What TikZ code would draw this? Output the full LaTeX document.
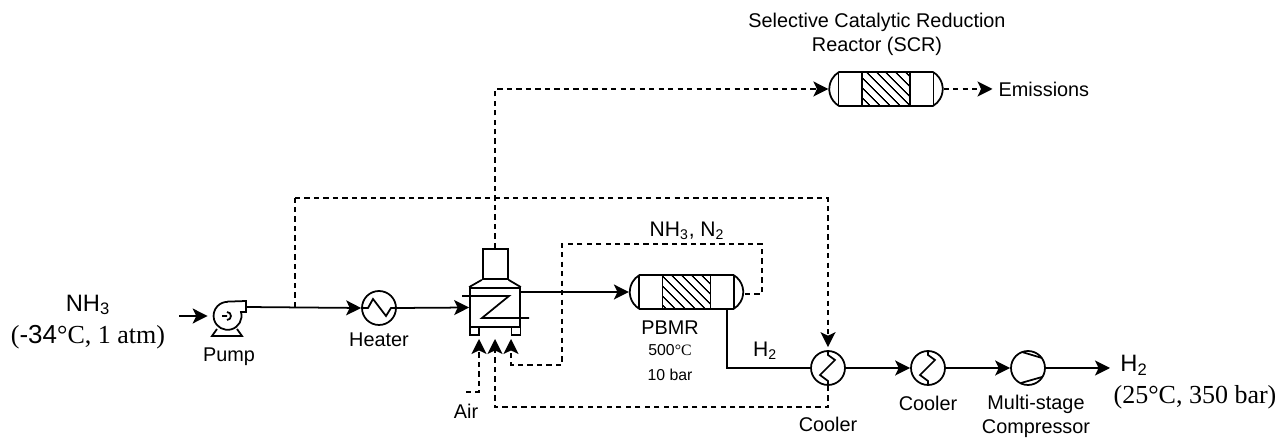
\documentclass[tikz,border=0pt]{standalone}
\usepackage{fontspec}
\setmainfont{Liberation Sans}
\newfontfamily\timesfont{Liberation Serif}
\usetikzlibrary{arrows.meta,calc,patterns.meta,shapes.misc}
\tikzset{
  line/.style={line width=1pt},
  flow/.style={line,-{Stealth[length=8.5pt,width=8.5pt,inset=2pt]}},
  gasline/.style={line,dash pattern=on 3pt off 2.4pt},
  gas/.style={flow,dash pattern=on 3pt off 2.4pt},
  unit/.style={circle,draw,line,minimum size=0.68cm,inner sep=0},
  box/.style={rectangle,draw,line,inner sep=0},
  reactor/.style={rounded rectangle,rounded rectangle arc length=120,draw,line,
    minimum width=2.27cm,minimum height=0.68cm,inner sep=0},
  tag/.style={font=\fontsize{11.3}{13}\selectfont,align=center},
  bigtag/.style={font=\fontsize{12}{14}\selectfont},
  hugetag/.style={font=\fontsize{13.5}{16}\selectfont},
  small/.style={font=\fontsize{9}{11}\selectfont},
  cond/.style={font=\fontsize{14.8}{17}\selectfont}
}
\begin{document}
\begin{tikzpicture}[x=0.02cm,y=-0.02cm]
    \useasboundingbox (0,0) rectangle (1282,438);
    % units
    \node[circle,minimum size=0.56cm,inner sep=0] (pump) at (227,316) {};
    \foreach \Pos/\Name in {(379,308)/heater, (828,368)/coolerA, (928,368)/coolerB, (1028,368)/compressor}
    \node[unit] (\Name) at \Pos {};
    \foreach \Pos/\Name in {(686.5,292)/pbmr, (886,89)/scr}
    \node[reactor] (\Name) at \Pos {};
    % furnace
    \node[box,minimum width=1cm,minimum height=0.78cm] (furnace) at (495,307.5) {};
    \node[box,minimum width=0.5cm,minimum height=0.6cm] (chimney) at (495.2,264) {};
    \node[box,minimum width=0.18cm,minimum height=0.16cm] (footA) at (474.5,331) {};
    \node[box,minimum width=0.18cm,minimum height=0.16cm] (footB) at (516,331) {};
    \draw[line] (chimney.south west) -- (furnace.north west);
    \draw[line] (chimney.south east) -- (furnace.north east);
    \draw[line] (462,296) -- (509,296) -- (482,318) -- (529,318);
    % pump body
    \draw[line] (pump.north) -- (246,301) -- (246,312) -- (241,312)
      arc[start angle=16,end angle=-270,radius=0.28cm];
    \draw[line] (222,316) -- (227,316) (227,312) arc[start angle=90,end angle=-90,radius=0.08cm];
    \draw[line] (217,329) -- (212,336) -- (242,336) -- (237,329);
    % heater, coolers, compressor
    \draw[line,shift={(heater)}] (-17,0) -- (-11,0) -- (-6,-9) -- (7,8) -- (12,0) -- (17,0);
    \foreach \Cooler in {coolerA,coolerB}
    \draw[line,shift={(\Cooler)}] (0,-17) -- (0,-13) -- (7,-8) -- (-8,7) -- (0,13) -- (0,17);
    \draw[line,shift={(compressor)}] (-6,-16) -- (14,-10) (-7,15) -- (14,9);
    % reactors
    \foreach \Reactor in {pbmr,scr}
    {
    \draw[line,pattern={Lines[angle=-45,distance=4pt,line width=0.8pt]}]
      ($(\Reactor)+(-24,-17)$) rectangle ($(\Reactor)+(24,17)$);
    \draw[line] ($(\Reactor)+(-47.5,-17)$) -- ($(\Reactor)+(-47.5,17)$);
    \draw[line] ($(\Reactor)+(47.5,-17)$) -- ($(\Reactor)+(47.5,17)$);
    }
    % free ends
    \coordinate (feed) at (179,316);
    \coordinate (pumpout) at (246,307);
    \coordinate (branch) at (295,307);
    \coordinate (loop) at (295,198);
    \coordinate (furnaceout) at (520,292);
    \coordinate (airstart) at (466,392);
    \coordinate (airin) at (479,339);
    \coordinate (coolin) at (495,339);
    \coordinate (recyin) at (511,339);
    \coordinate (returnrow) at (495,407);
    \coordinate (pbmrout) at (745,294);
    \coordinate (recycleB) at (762,244);
    \coordinate (recycleD) at (562,365);
    \coordinate (pbmrbase) at (727,309);
    \coordinate (product) at (1110,368);
    % labels
    \node[hugetag] (feedname) at (88,305) {NH\textsubscript{3}};
    \node[cond] (feedcond) at (88,337.5) {{\timesfont (}-34{\timesfont °C, 1 atm)}};
    \node[tag] (pumpname) at (229,357) {Pump};
    \node[tag] (heatername) at (379,340) {Heater};
    \node[tag] (scrname) at (877,34.5) {Selective Catalytic Reduction\\[1pt]Reactor (SCR)};
    \node[tag,anchor=west] (emissions) at (992.5,89) {Emissions};
    \node[bigtag] (mixname) at (687,231) {NH\textsubscript{3}, N\textsubscript{2}};
    \node[tag] (pbmrname) at (670,328) {PBMR};
    \node[small] (pbmrtemp) at (670,350) {500{\timesfont °C}};
    \node[small] (pbmrbar) at (670,375) {10 bar};
    \node[bigtag] (hydrogen) at (765,351) {H\textsubscript{2}};
    \node[tag] (airname) at (466,411) {Air};
    \node[tag] (coolerAname) at (828,424) {Cooler};
    \node[tag] (coolerBname) at (928,403) {Cooler};
    \node[tag] (compname) at (1036,416.5) {Multi-stage\\[1pt]Compressor};
    \node[hugetag] (productname) at (1134,365) {H\textsubscript{2}};
    \node[cond] (productcond) at (1195,397) {\timesfont (25°C, 350 bar)};
    % solid lines
    \draw[flow,shorten >=0.1cm] (feed) -- (pump.west);
    \draw[flow] (pumpout) -- (heater.west);
    \draw[flow] (heater.east) -- (furnace.west);
    \draw[flow] (furnaceout) -- (pbmr.west);
    \draw[line] (pbmrbase) |- (coolerA.west);
    \draw[flow] (coolerA.east) -- (coolerB.west);
    \draw[flow] (coolerB.east) -- (compressor.west);
    \draw[flow] (compressor.east) -- (product);
    % dashed lines
    \draw[gasline] (branch) -- (loop);
    \draw[gas,shorten >=0.06cm] (loop) -| (coolerA.north);
    \draw[gas] (chimney.north) |- (scr.west);
    \draw[gas] (scr.east) -- (emissions.west);
    \draw[gas] (pbmrout) -| (recycleB) -| (recycleD) -| (recyin);
    \draw[gas] (coolerA.south) |- (returnrow) -- (coolin);
    \draw[gas] (airstart) -| (airin);
\end{tikzpicture}
\end{document}
